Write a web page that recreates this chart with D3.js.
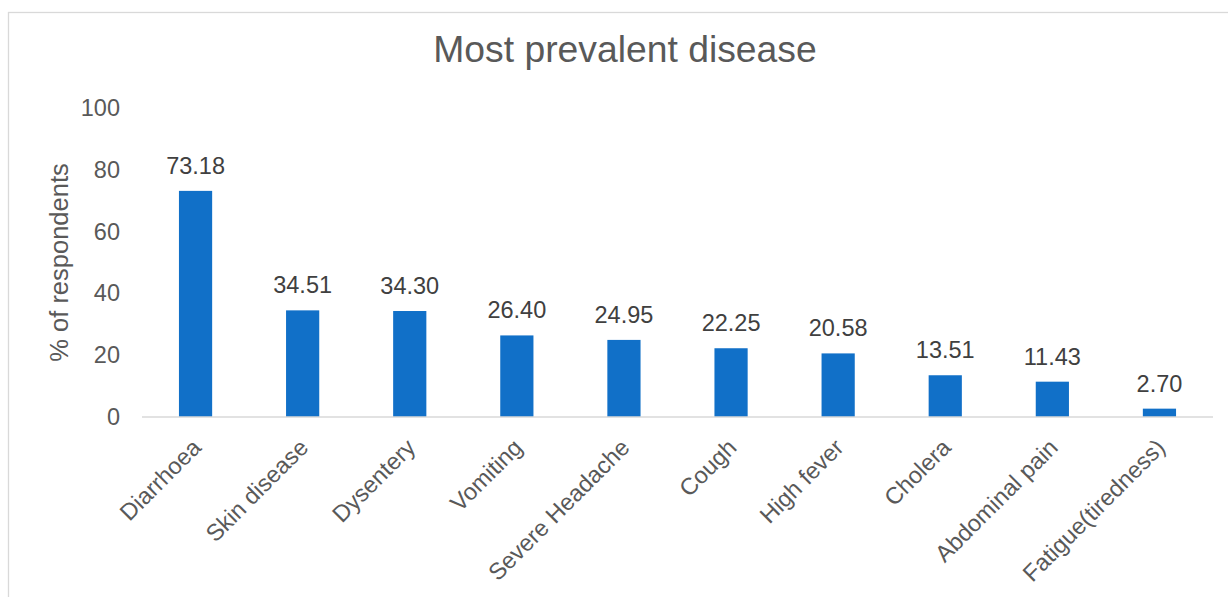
<!DOCTYPE html>
<html>
<head>
<meta charset="utf-8">
<script src="https://cdn.jsdelivr.net/npm/d3@7/dist/d3.min.js"></script>
<style>
  html, body { margin: 0; padding: 0; background: #fff; }
  svg { display: block; font-family: "Liberation Sans", Arial, sans-serif; }
</style>
</head>
<body>
<svg id="chart" width="1228" height="597"></svg>
<script>
// Share of respondents naming each disease as most prevalent
const categories = ["Diarrhoea", "Skin disease", "Dysentery", "Vomiting", "Severe Headache",
                    "Cough", "High fever", "Cholera", "Abdominal pain", "Fatigue(tiredness)"];
const values = [73.18, 34.51, 34.30, 26.40, 24.95, 22.25, 20.58, 13.51, 11.43, 2.70];
const yTicks = [0, 20, 40, 60, 80, 100];

const svg = d3.select("#chart");
const W = 1228, H = 597;
const plot = { left: 142, right: 1213, top: 108, bottom: 417 };
const FONT = "Liberation Sans, Arial, sans-serif";
const LABEL_SIZE = 23.5;

// chart frame
svg.append("rect")
  .attr("x", 8.5).attr("y", 12.5)
  .attr("width", W + 20).attr("height", H + 20)
  .attr("fill", "#fff").attr("stroke", "#d9d9d9").attr("stroke-width", 1.3);

const x = d3.scaleBand().domain(categories).range([plot.left, plot.right]).paddingInner(0.69).paddingOuter(0.345);
const y = d3.scaleLinear().domain([0, 100]).range([plot.bottom, plot.top]);

// title
svg.append("text")
  .attr("x", 625).attr("y", 62)
  .attr("text-anchor", "middle")
  .attr("font-size", 37.3).attr("fill", "#595959")
  .text("Most prevalent disease");

// y axis (labels only)
const yAxis = svg.append("g")
  .attr("transform", `translate(${plot.left},0)`)
  .call(d3.axisLeft(y).tickValues(yTicks).tickSize(0).tickPadding(22).tickFormat(d3.format("d")));
yAxis.select(".domain").remove();
yAxis.selectAll("text").attr("font-size", LABEL_SIZE).attr("fill", "#595959").attr("font-family", FONT);

// y axis title
svg.append("text")
  .attr("transform", `translate(68,${(plot.top + plot.bottom) / 2}) rotate(-90)`)
  .attr("text-anchor", "middle")
  .attr("font-size", 25.5).attr("fill", "#595959")
  .text("% of respondents");

// bars
svg.append("g").selectAll("rect")
  .data(values)
  .join("rect")
  .attr("x", (d, i) => x(categories[i]))
  .attr("y", d => y(d))
  .attr("width", x.bandwidth())
  .attr("height", d => y(0) - y(d))
  .attr("fill", "#1170c8");

// value labels
svg.append("g").selectAll("text")
  .data(values)
  .join("text")
  .attr("x", (d, i) => x(categories[i]) + x.bandwidth() / 2)
  .attr("y", d => y(d) - 17)
  .attr("text-anchor", "middle")
  .attr("font-size", LABEL_SIZE).attr("fill", "#404040")
  .text(d => d3.format(".2f")(d));

// x axis
const xAxis = svg.append("g")
  .attr("transform", `translate(0,${plot.bottom})`)
  .call(d3.axisBottom(x).tickSize(0).tickPadding(0));
xAxis.select(".domain").attr("stroke", "#d9d9d9").attr("stroke-width", 1.5)
  .attr("d", `M${plot.left},0H${plot.right}`);
xAxis.selectAll("text")
  .attr("font-size", LABEL_SIZE).attr("fill", "#595959").attr("font-family", FONT)
  .attr("text-anchor", "end")
  .attr("y", 0).attr("dy", 0)
  .attr("transform", "translate(7,32) rotate(-45)");
</script>
</body>
</html>
